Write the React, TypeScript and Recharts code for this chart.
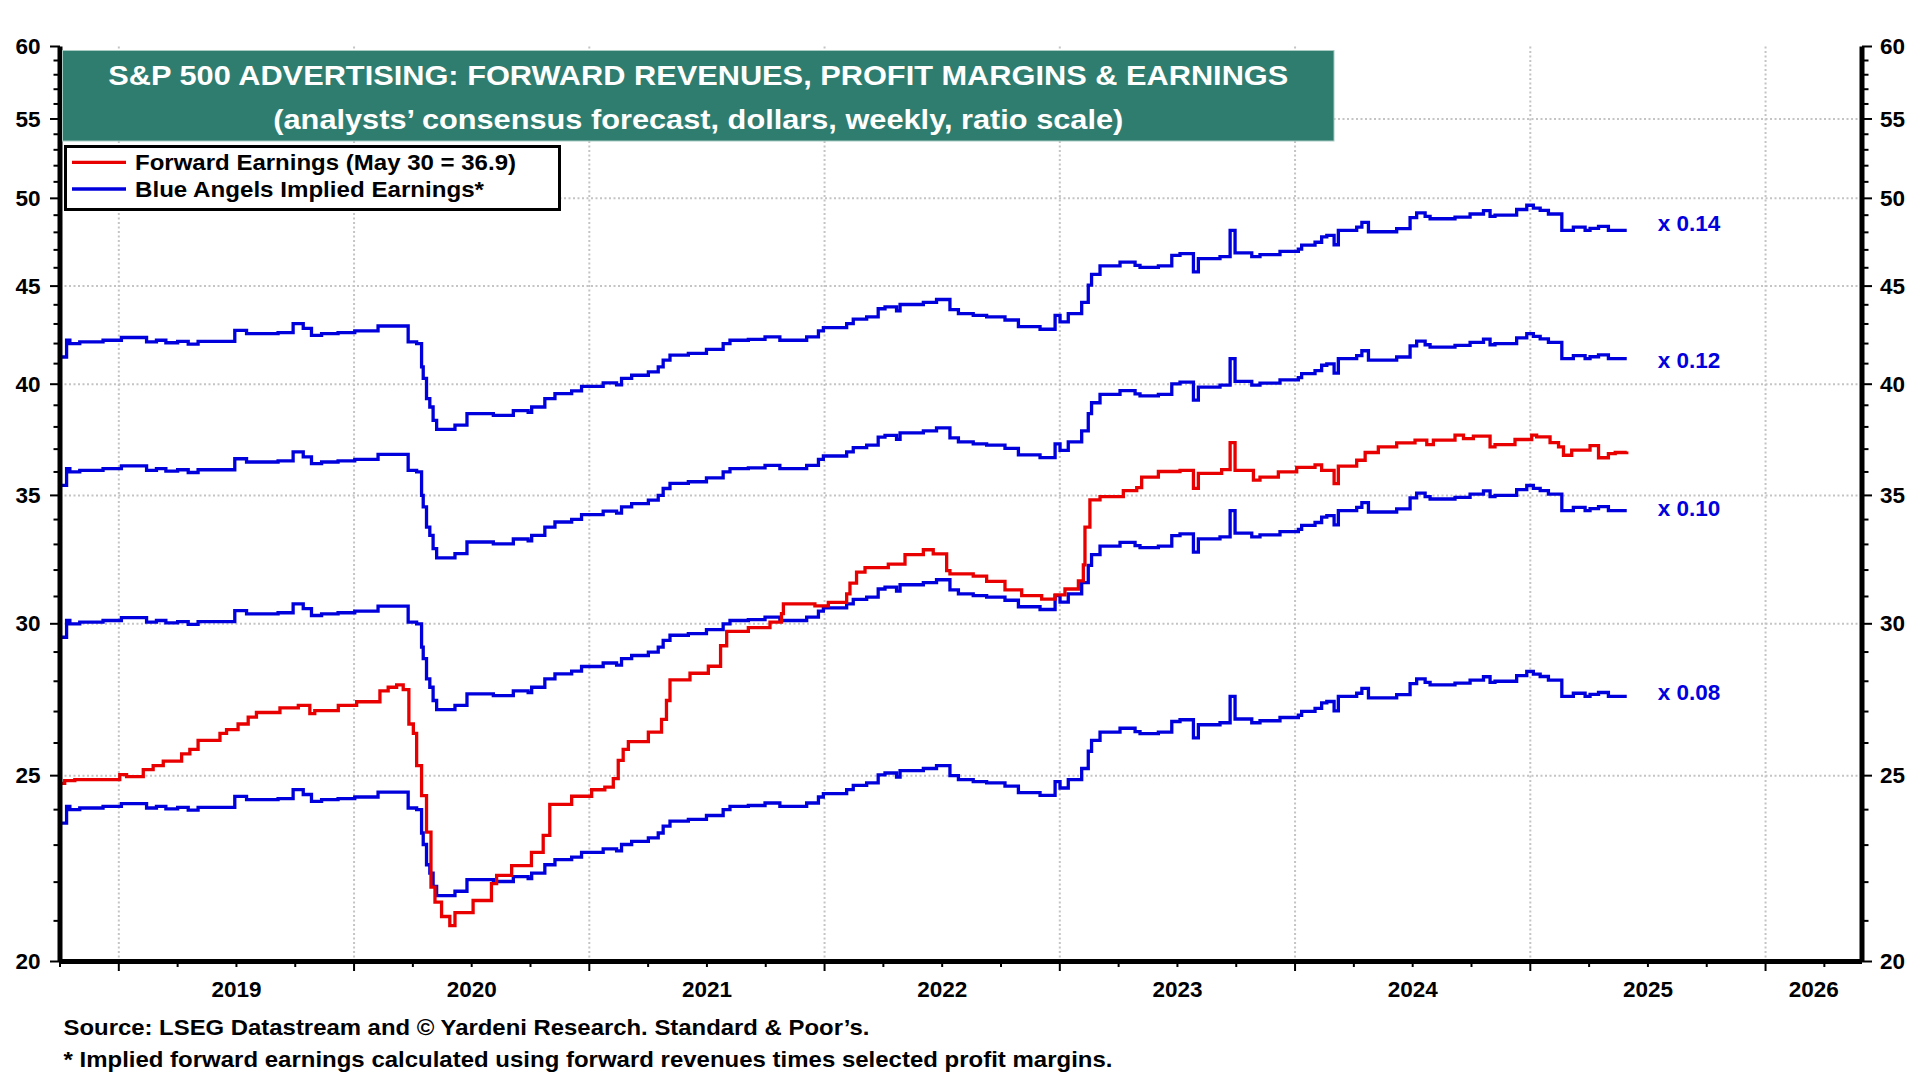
import React from 'react';
import { LineChart, Line, XAxis, YAxis, CartesianGrid, ReferenceDot } from 'recharts';

// weekly data, decimal years
const revDates = [
  2018.753, 2018.778, 2018.792, 2018.834, 2018.933,
  2019.011, 2019.118, 2019.16, 2019.2, 2019.25, 2019.295, 2019.337, 2019.493, 2019.543, 2019.677, 2019.741, 2019.784, 2019.819, 2019.862, 2019.932,
  2020.003, 2020.102, 2020.23, 2020.266, 2020.287, 2020.294, 2020.308, 2020.322, 2020.336, 2020.351, 2020.429, 2020.48, 2020.592, 2020.677, 2020.74, 2020.755, 2020.811, 2020.854, 2020.925, 2020.967,
  2021.059, 2021.116, 2021.137, 2021.18, 2021.251, 2021.293, 2021.314, 2021.343, 2021.421, 2021.498, 2021.569, 2021.598, 2021.676, 2021.747, 2021.81, 2021.924, 2021.974, 2021.995,
  2022.094, 2022.122, 2022.179, 2022.228, 2022.257, 2022.306, 2022.321, 2022.42, 2022.476, 2022.533, 2022.569, 2022.632, 2022.689, 2022.767, 2022.824, 2022.916, 2022.98,
  2023.001, 2023.036, 2023.093, 2023.121, 2023.135, 2023.171, 2023.256, 2023.32, 2023.341, 2023.419, 2023.476, 2023.511, 2023.568, 2023.589, 2023.681, 2023.724, 2023.745, 2023.816, 2023.851, 2023.936,
  2024.014, 2024.028, 2024.085, 2024.113, 2024.135, 2024.166, 2024.184, 2024.262, 2024.284, 2024.312, 2024.432, 2024.489, 2024.517, 2024.553, 2024.574, 2024.68, 2024.744, 2024.801, 2024.829, 2024.85, 2024.942, 2024.985,
  2025.013, 2025.042, 2025.077, 2025.134, 2025.183, 2025.233, 2025.254, 2025.29, 2025.332, 2025.41,
];

// forward revenues per share (dollars)
const fwdRevenues = [
  295.2, 301.2, 300.0, 300.6, 301.2,
  302.2, 300.6, 301.2, 300.3, 300.8, 299.8, 300.8, 304.8, 303.6, 304.0, 307.3, 305.5, 303.0, 303.6, 304.0,
  304.6, 306.4, 300.6, 300.0, 291.7, 287.7, 280.8, 278.0, 273.6, 270.6, 272.0, 275.8, 275.2, 276.8, 276.2, 278.0, 280.8, 282.5, 283.4, 285.0,
  286.2, 285.5, 287.7, 288.8, 290.0, 291.7, 294.1, 295.9, 296.5, 297.9, 300.0, 301.2, 301.5, 302.4, 301.2, 302.4, 304.6, 305.8,
  307.3, 308.9, 309.8, 312.8, 313.5, 312.0, 314.4, 315.2, 316.3, 312.5, 311.0, 310.3, 309.8, 308.6, 306.2, 305.2, 310.3,
  307.9, 311.0, 315.2, 321.8, 326.0, 329.3, 330.8, 329.5, 328.7, 329.3, 333.5, 334.2, 327.0, 332.2, 333.0, 343.7, 334.5, 333.0, 333.8, 335.1,
  336.0, 337.6, 338.8, 341.0, 341.6, 337.8, 343.7, 345.0, 347.0, 343.1, 344.4, 349.0, 351.0, 349.5, 348.5, 349.2, 350.5, 351.9, 349.5, 350.0, 352.4, 354.2,
  353.0, 352.0, 350.5, 343.7, 345.0, 343.7, 344.5, 345.3, 343.7, 343.7,
];

const earnDates = [
  2018.749, 2018.77, 2018.813,
  2019.004, 2019.033, 2019.104, 2019.146, 2019.189, 2019.267, 2019.302, 2019.337, 2019.43, 2019.458, 2019.507, 2019.55, 2019.585, 2019.685, 2019.763, 2019.812, 2019.833, 2019.933,
  2020.011, 2020.11, 2020.145, 2020.181, 2020.209, 2020.233, 2020.252, 2020.266, 2020.287, 2020.308, 2020.327, 2020.344, 2020.372, 2020.407, 2020.429, 2020.506, 2020.584, 2020.606, 2020.67, 2020.754, 2020.804, 2020.832, 2020.925,
  2021.01, 2021.066, 2021.102, 2021.123, 2021.144, 2021.166, 2021.251, 2021.307, 2021.328, 2021.343, 2021.428, 2021.506, 2021.558, 2021.584, 2021.676, 2021.768, 2021.817, 2021.825, 2021.959,
  2022.016, 2022.094, 2022.108, 2022.136, 2022.172, 2022.271, 2022.342, 2022.42, 2022.462, 2022.519, 2022.533, 2022.632, 2022.689, 2022.767, 2022.838, 2022.923, 2022.98,
  2023.022, 2023.079, 2023.1, 2023.107, 2023.128, 2023.171, 2023.27, 2023.327, 2023.348, 2023.419, 2023.511, 2023.568, 2023.589, 2023.688, 2023.724, 2023.745, 2023.823, 2023.851, 2023.929,
  2024.007, 2024.085, 2024.113, 2024.166, 2024.184, 2024.262, 2024.298, 2024.354, 2024.432, 2024.51, 2024.56, 2024.588, 2024.68, 2024.716, 2024.758, 2024.829, 2024.85, 2024.935,
  2025.006, 2025.027, 2025.084, 2025.12, 2025.141, 2025.176, 2025.254, 2025.29, 2025.332, 2025.361, 2025.41,
];

// forward earnings per share (dollars)
const fwdEarnings = [
  24.77, 24.85, 24.88,
  25.03, 24.97, 25.18, 25.3, 25.44, 25.66, 25.8, 26.08, 26.3, 26.42, 26.6, 26.82, 26.97, 27.12, 27.2, 26.93, 27.03, 27.2,
  27.32, 27.68, 27.8, 27.88, 27.72, 26.6, 26.3, 25.3, 24.41, 23.36, 21.87, 21.48, 21.11, 20.88, 21.21, 21.52, 21.96, 22.18, 22.44, 22.8, 23.27, 24.15, 24.39,
  24.58, 24.66, 24.91, 25.46, 25.8, 26.04, 26.34, 26.75, 27.36, 28.05, 28.27, 28.51, 29.22, 29.73, 29.86, 30.06, 30.37, 30.73, 30.65,
  30.78, 31.1, 31.5, 31.92, 32.09, 32.23, 32.6, 32.79, 32.63, 31.98, 31.85, 31.77, 31.57, 31.25, 31.03, 30.9, 31.06,
  31.28, 31.59, 32.2, 33.69, 34.81, 34.95, 35.2, 35.33, 35.78, 36.02, 36.07, 35.3, 35.94, 36.1, 37.29, 36.07, 35.65, 35.78, 36.0,
  36.2, 36.31, 36.07, 35.5, 36.25, 36.51, 36.85, 37.1, 37.28, 37.4, 37.2, 37.4, 37.63, 37.47, 37.58, 37.1, 37.2, 37.43,
  37.63, 37.55, 37.29, 37.1, 36.73, 36.96, 37.16, 36.62, 36.8, 36.85, 36.9,
];

const margins = [0.14, 0.12, 0.1, 0.08];
const marginLabels = ['x 0.14', 'x 0.12', 'x 0.10', 'x 0.08'];
const marginLabelDy = [-4, 4, 0, -1];

const yLabelTicks = [20, 25, 30, 35, 40, 45, 50, 55, 60];
const gridValuesY = [25, 30, 35, 40, 45, 50, 55];
const gridYears = [2019, 2020, 2021, 2022, 2023, 2024, 2025, 2026];

const X_DOMAIN: [number, number] = [2018.75, 2026.41];
const FONT = '"Liberation Sans", Arial, Helvetica, sans-serif';
const BLUE = '#0000DC';
const RED = '#E80000';

const allDates = Array.from(new Set([...revDates, ...earnDates])).sort((a, b) => a - b);
const rows = allDates.map((t) => {
  const ri = revDates.indexOf(t);
  const ei = earnDates.indexOf(t);
  return { t, rev: ri >= 0 ? fwdRevenues[ri] : null, eps: ei >= 0 ? fwdEarnings[ei] : null };
});

const lastDate = revDates[revDates.length - 1];
const lastRev = fwdRevenues[fwdRevenues.length - 1];

const quarterTicks = Array.from({ length: 31 }, (_, i) => 2018.75 + i * 0.25);
const label2026 = (2026 + X_DOMAIN[1]) / 2;
const xTicks = [...quarterTicks, label2026];
const yTicks = Array.from({ length: 41 }, (_, i) => 20 + i);

const XTick = (p: any) => {
  const v = p.payload.value as number;
  const text = (s: string) => (
    <text x={p.x} y={p.y + 35} textAnchor="middle" fontFamily={FONT} fontSize={22.5} fontWeight="bold" fill="#000">
      {s}
    </text>
  );
  if (v === label2026) return <g>{text('2026')}</g>;
  const major = Number.isInteger(v);
  return (
    <g>
      <line x1={p.x} x2={p.x} y1={p.y} y2={p.y + (major ? 9.5 : 5.5)} stroke="#000" strokeWidth={2} />
      {v % 1 === 0.5 && text(String(Math.floor(v)))}
    </g>
  );
};

const YTick = (side: 'left' | 'right') => (p: any) => {
  const v = p.payload.value as number;
  const major = yLabelTicks.includes(v);
  const dir = side === 'left' ? -1 : 1;
  return (
    <g>
      <line x1={p.x} x2={p.x + dir * (major ? 10 : 6.5)} y1={p.y} y2={p.y} stroke="#000" strokeWidth={2} />
      {major && (
        <text
          x={p.x + dir * (side === 'left' ? 19.5 : 18)}
          y={p.y + 7.6}
          textAnchor={side === 'left' ? 'end' : 'start'}
          fontFamily={FONT}
          fontSize={22.5}
          fontWeight="bold"
          fill="#000"
        >
          {v}
        </text>
      )}
    </g>
  );
};

const App: React.FC = () => {
  return (
    <div style={{ position: 'absolute', left: 0, top: 0, width: 1920, height: 1080, background: '#fff' }}>
      <LineChart width={1920} height={1080} data={rows} margin={{ top: 46.5, right: 0, bottom: 0, left: 0 }}>
        <CartesianGrid
          xAxisId={0}
          yAxisId="left"
          horizontalValues={gridValuesY}
          verticalValues={gridYears}
          stroke="#c4c4c4"
          strokeWidth={2}
          strokeDasharray="2 2.5"
        />
        <XAxis
          xAxisId={0}
          dataKey="t"
          type="number"
          domain={X_DOMAIN}
          allowDataOverflow
          ticks={xTicks}
          interval={0}
          height={118.5}
          tickSize={0}
          tickMargin={0}
          tickLine={false}
          tick={<XTick />}
          axisLine={{ stroke: '#000', strokeWidth: 5 }}
        />
        <XAxis
          xAxisId="top"
          orientation="top"
          dataKey="t"
          type="number"
          domain={X_DOMAIN}
          allowDataOverflow
          height={0}
          tick={false}
          tickLine={false}
          axisLine={{ stroke: '#000', strokeWidth: 5 }}
        />
        <YAxis
          yAxisId="left"
          orientation="left"
          scale="log"
          domain={[20, 60]}
          allowDataOverflow
          ticks={yTicks}
          interval={0}
          width={60}
          tickSize={0}
          tickMargin={0}
          tickLine={false}
          tick={YTick('left')}
          axisLine={{ stroke: '#000', strokeWidth: 5 }}
        />
        <YAxis
          yAxisId="right"
          orientation="right"
          scale="log"
          domain={[20, 60]}
          allowDataOverflow
          ticks={yTicks}
          interval={0}
          width={58}
          tickSize={0}
          tickMargin={0}
          tickLine={false}
          tick={YTick('right')}
          axisLine={{ stroke: '#000', strokeWidth: 5 }}
        />
        {margins.map((m) => (
          <Line
            key={`rev-${m}`}
            yAxisId="left"
            name={`Revenues x ${m}`}
            dataKey={(d: any) => (d.rev == null ? null : d.rev * m)}
            type="stepAfter"
            stroke={BLUE}
            strokeWidth={3.3}
            dot={false}
            activeDot={false}
            connectNulls
            isAnimationActive={false}
          />
        ))}
        <Line
          yAxisId="left"
          name="Forward Earnings"
          dataKey="eps"
          type="stepAfter"
          stroke={RED}
          strokeWidth={3.3}
          dot={false}
          activeDot={false}
          connectNulls
          isAnimationActive={false}
        />
        {margins.map((m, i) => (
          <ReferenceDot
            key={`lbl-${m}`}
            yAxisId="left"
            x={lastDate}
            y={lastRev * m}
            r={0}
            ifOverflow="visible"
            shape={(p: any) => (
              <text
                x={p.cx + 31}
                y={p.cy + 5 + marginLabelDy[i]}
                fontFamily={FONT}
                fontSize={22.5}
                fontWeight="bold"
                fill={BLUE}
              >
                {marginLabels[i]}
              </text>
            )}
          />
        ))}
      </LineChart>

      {/* title, legend and notes */}
      <svg width={1920} height={1080} style={{ position: 'absolute', left: 0, top: 0, pointerEvents: 'none' }}>
        <rect x={62.5} y={50.5} width={1271.5} height={90.5} fill="#2E7D6F" stroke="#a8cbc4" strokeWidth={1} />
        <text x={698.3} y={85} textAnchor="middle" fontFamily={FONT} fontSize={28} fontWeight="bold" fill="#fff" textLength={1180} lengthAdjust="spacingAndGlyphs">
          S&amp;P 500 ADVERTISING: FORWARD REVENUES, PROFIT MARGINS &amp; EARNINGS
        </text>
        <text x={698.3} y={129.3} textAnchor="middle" fontFamily={FONT} fontSize={28} fontWeight="bold" fill="#fff" textLength={850} lengthAdjust="spacingAndGlyphs">
          (analysts’ consensus forecast, dollars, weekly, ratio scale)
        </text>

        <rect x={65.5} y={146.5} width={494} height={63} fill="#fff" stroke="#000" strokeWidth={3} />
        <line x1={72} x2={126} y1={162.3} y2={162.3} stroke={RED} strokeWidth={3.3} />
        <line x1={72} x2={126} y1={189} y2={189} stroke={BLUE} strokeWidth={3.3} />
        <text x={135} y={169.5} fontFamily={FONT} fontSize={22.5} fontWeight="bold" fill="#000" textLength={381} lengthAdjust="spacingAndGlyphs">
          Forward Earnings (May 30 = 36.9)
        </text>
        <text x={135} y={196.9} fontFamily={FONT} fontSize={22.5} fontWeight="bold" fill="#000" textLength={349} lengthAdjust="spacingAndGlyphs">
          Blue Angels Implied Earnings*
        </text>

        <text x={63.5} y={1035} fontFamily={FONT} fontSize={21.5} fontWeight="bold" fill="#000" textLength={806} lengthAdjust="spacingAndGlyphs">
          Source: LSEG Datastream and © Yardeni Research. Standard &amp; Poor’s.
        </text>
        <text x={63.5} y={1067.3} fontFamily={FONT} fontSize={21.5} fontWeight="bold" fill="#000" textLength={1049} lengthAdjust="spacingAndGlyphs">
          * Implied forward earnings calculated using forward revenues times selected profit margins.
        </text>
      </svg>
    </div>
  );
};

export default App;
